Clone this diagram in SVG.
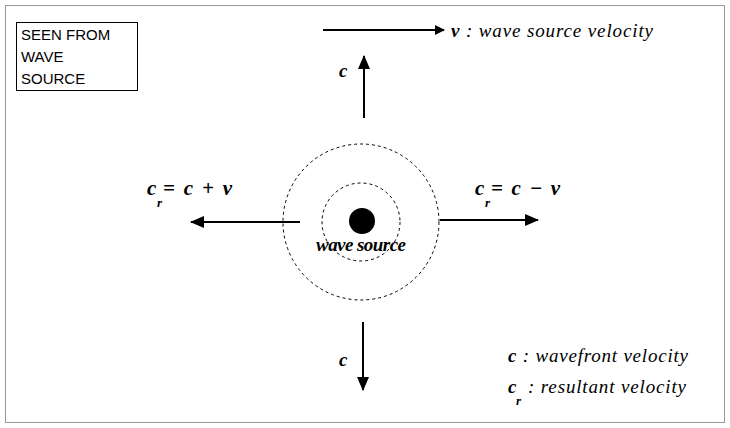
<svg xmlns="http://www.w3.org/2000/svg" width="730" height="428" viewBox="0 0 730 428">
<style>
.m{font-family:"Liberation Serif",serif;font-style:italic;font-size:19px;fill:#000}
.b{font-weight:bold}
.e{font-size:21px}
.sub{font-family:"Liberation Serif",serif;font-style:italic;font-weight:bold;font-size:13px}
.ln{stroke:#000;stroke-width:2;fill:none}
.d{stroke:#000;stroke-width:1;stroke-dasharray:3,3;fill:none}
</style>
<defs><marker id="a" markerWidth="10" markerHeight="10" refX="9" refY="5" orient="auto" markerUnits="userSpaceOnUse"><path d="M0,0L10,5L0,10z"/></marker>
<marker id="a2" markerWidth="14" markerHeight="12" refX="13" refY="6" orient="auto" markerUnits="userSpaceOnUse"><path d="M0,0L14,6L0,12z"/></marker></defs>
<rect x="5.5" y="5.5" width="719" height="417" fill="#fff" stroke="#999"/>
<g id="label"><rect x="16.5" y="22.5" width="121" height="68" fill="#fff" stroke="#000"/>
<text font-family="Liberation Sans,Arial,sans-serif" font-size="15" x="21" y="40">SEEN FROM</text>
<text font-family="Liberation Sans,Arial,sans-serif" font-size="15" x="21" y="62">WAVE</text>
<text font-family="Liberation Sans,Arial,sans-serif" font-size="15" x="21" y="84">SOURCE</text></g>
<g id="source"><circle cx="361" cy="222" r="78" class="d"/><circle cx="361" cy="222" r="39" class="d"/><circle cx="362" cy="221" r="13"/>
<text class="m b" x="316" y="251" font-size="14" textLength="90">wave source</text></g>
<g id="connectors">
<line x1="323" y1="30" x2="444" y2="30" class="ln" stroke-width="1.5" marker-end="url(#a)"/>
<line x1="364" y1="118" x2="364" y2="56" class="ln" marker-end="url(#a2)"/>
<line x1="363" y1="322" x2="363" y2="390" class="ln" marker-end="url(#a2)"/>
<line x1="300" y1="222" x2="191" y2="222" class="ln" marker-end="url(#a2)"/>
<line x1="440" y1="220" x2="538" y2="220" class="ln" marker-end="url(#a2)"/>
</g>
<g id="labels">
<text class="m" x="451" y="37" textLength="202"><tspan class="b">v</tspan> : wave source velocity</text>
<text class="m b" x="339" y="77">c</text>
<text class="m b" x="339" y="366">c</text>
<text class="m b e" x="147" y="195">c</text><text class="sub" x="157" y="207">r</text><text class="m b e" x="163" y="195" textLength="69">= c + v</text>
<text class="m b e" x="475" y="195">c</text><text class="sub" x="485" y="207">r</text><text class="m b e" x="491" y="195" textLength="69">= c − v</text>
<text class="m" x="508" y="362" textLength="180"><tspan class="b">c</tspan> : wavefront velocity</text>
<text class="m b" x="508" y="393">c</text><text class="sub" x="516" y="405">r</text><text class="m" x="528" y="393" textLength="158">: resultant velocity</text>
</g>
</svg>
